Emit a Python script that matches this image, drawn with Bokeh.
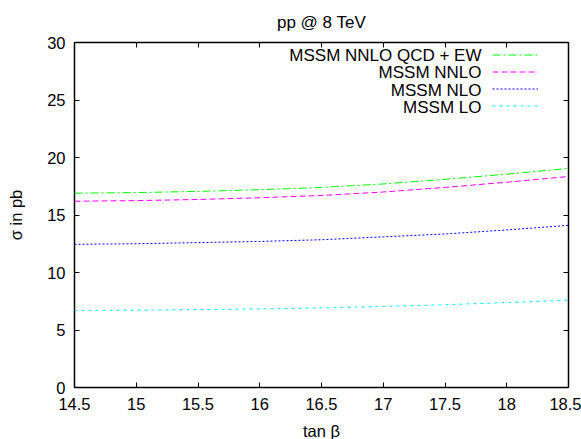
from bokeh.plotting import figure
from bokeh.models import Legend, LegendItem, Label, LinearAxis, FixedTicker, Range1d
from bokeh.embed import file_html
from bokeh.resources import INLINE

# ---- data ----
tanb = [14.5, 15.0, 15.5, 16.0, 16.5, 17.0, 17.5, 18.0, 18.5]
nnlo_qcd_ew = [16.9, 16.95, 17.05, 17.2, 17.4, 17.7, 18.1, 18.55, 19.05]
nnlo = [16.2, 16.25, 16.35, 16.5, 16.7, 17.0, 17.4, 17.85, 18.35]
nlo = [12.45, 12.5, 12.6, 12.7, 12.85, 13.1, 13.35, 13.7, 14.1]
lo = [6.7, 6.72, 6.77, 6.83, 6.92, 7.05, 7.2, 7.38, 7.6]

series_labels = ["MSSM NNLO QCD + EW", "MSSM NNLO", "MSSM NLO", "MSSM LO"]
x_ticks = [14.5, 15.0, 15.5, 16.0, 16.5, 17.0, 17.5, 18.0, 18.5]
y_ticks = [0, 5, 10, 15, 20, 25, 30]

FONT = "Liberation Sans"
FS = "16.5px"
FS_BIG = "17px"

p = figure(frame_width=494, frame_height=345,
           x_range=Range1d(14.5, 18.5), y_range=Range1d(0, 30),
           output_backend="svg", toolbar_location=None,
           min_border_left=74, min_border_right=13,
           min_border_top=41, min_border_bottom=53,
           title="pp @ 8 TeV")

p.title.align = "center"
p.title.text_font = FONT
p.title.text_font_size = FS_BIG
p.title.text_font_style = "normal"
p.title.text_color = "black"
p.title.standoff = 21

p.xgrid.visible = False
p.ygrid.visible = False
p.outline_line_color = "black"
p.outline_line_width = 1.5
p.background_fill_color = "white"
p.border_fill_color = "white"

def style_axis(ax, ticks, show_labels):
    ax.ticker = FixedTicker(ticks=ticks)
    ax.major_tick_in = 5
    ax.major_tick_out = 0
    ax.minor_tick_in = 0
    ax.minor_tick_out = 0
    ax.major_tick_line_color = "black"
    ax.major_tick_line_width = 1
    ax.axis_line_color = None
    ax.major_label_text_font = FONT
    ax.major_label_text_color = "black"
    ax.major_label_text_font_size = FS
    if not show_labels:
        ax.major_label_overrides = {t: "" for t in ticks}
        ax.major_label_standoff = 0

style_axis(p.xaxis[0], x_ticks, True)
style_axis(p.yaxis[0], y_ticks, True)
p.xaxis[0].major_label_standoff = 10
p.yaxis[0].major_label_standoff = 9
p.xaxis[0].axis_label = "tan β"
p.yaxis[0].axis_label = "σ in pb"
for ax in (p.xaxis[0], p.yaxis[0]):
    ax.axis_label_text_font = FONT
    ax.axis_label_text_font_size = FS
    ax.axis_label_text_font_style = "normal"
    ax.axis_label_text_color = "black"
p.xaxis[0].axis_label_standoff = 9
p.yaxis[0].axis_label_standoff = 19

top_ax = LinearAxis()
style_axis(top_ax, x_ticks, False)
p.add_layout(top_ax, "above")
right_ax = LinearAxis()
style_axis(right_ax, y_ticks, False)
p.add_layout(right_ax, "right")

r1 = p.line(tanb, nnlo_qcd_ew, line_color="#00ff00", line_width=1, line_dash="8 3 2 3")
r2 = p.line(tanb, nnlo, line_color="#ff00ff", line_width=1, line_dash="6 3")
r3 = p.line(tanb, nlo, line_color="#0000ff", line_width=1, line_dash="2 2")
r4 = p.line(tanb, lo, line_color="#00ffff", line_width=1, line_dash="3 4")
renderers = [r1, r2, r3, r4]

legend = Legend(items=[LegendItem(label=" ", renderers=[r]) for r in renderers],
                location="top_right", margin=0, padding=4,
                glyph_width=46, glyph_height=17, label_height=17,
                label_width=26, label_standoff=0, spacing=0,
                label_text_font=FONT, label_text_font_size="12px",
                background_fill_alpha=0, border_line_alpha=0)
p.add_layout(legend)

for i, txt in enumerate(series_labels):
    p.add_layout(Label(x=407, y=332.5 - 17.5 * i, x_units="screen", y_units="screen",
                       text=txt, text_align="right", text_baseline="middle",
                       text_font=FONT, text_font_size=FS_BIG, text_color="black"))

open("out.html", "w").write(file_html(p, INLINE))
